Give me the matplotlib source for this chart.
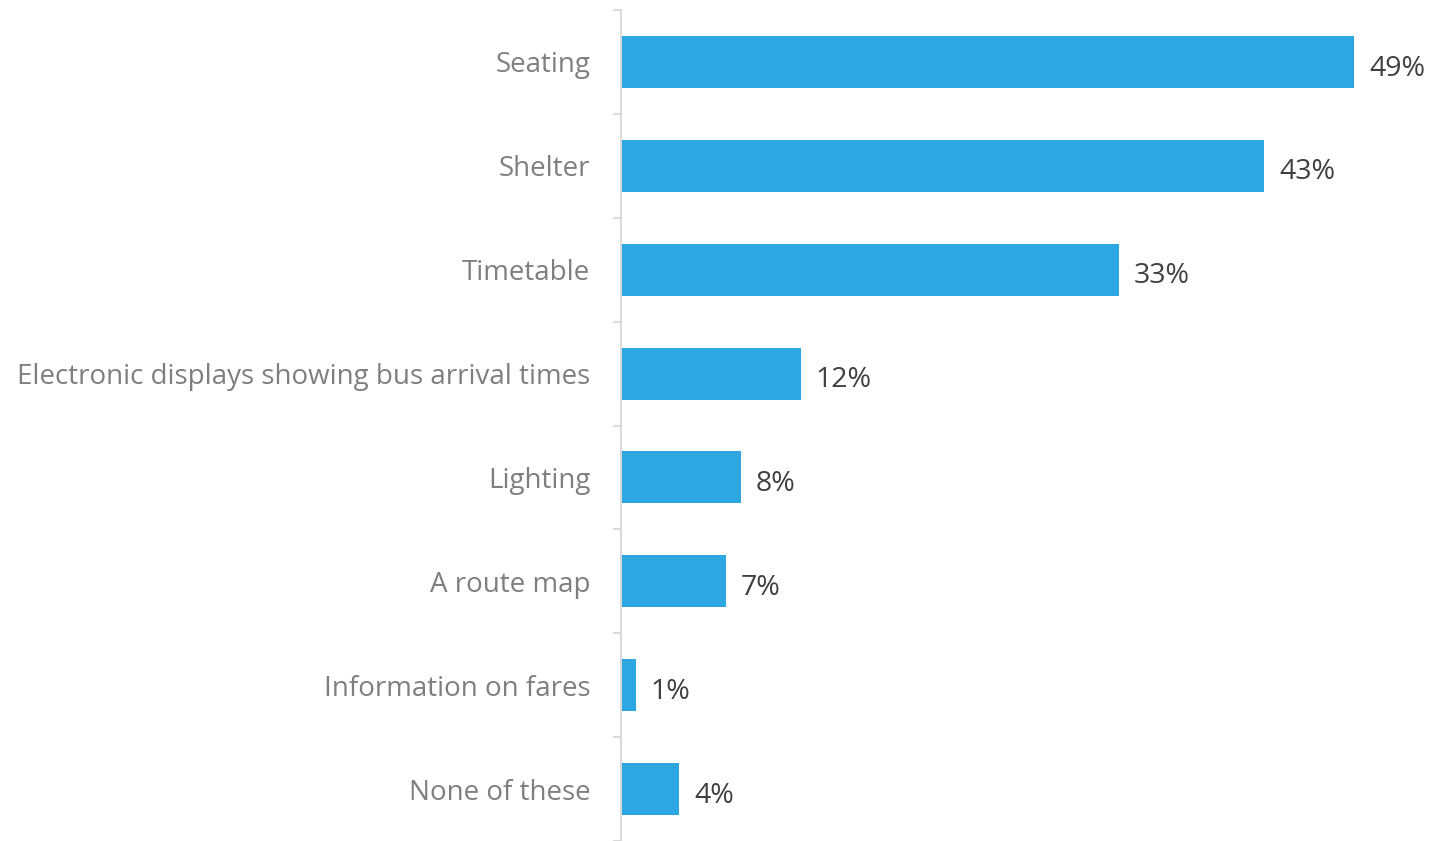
import matplotlib.pyplot as plt
import numpy as np

# Werte aus dem Diagramm
categories = ['Seating', 'Shelter', 'Timetable', 'Electronic displays showing bus arrival times',
              'Lighting', 'A route map', 'Information on fares', 'None of these']
values = [49, 43, 33.3, 12, 8, 7, 1, 3.9]
labels = ['49%', '43%', '33%', '12%', '8%', '7%', '1%', '4%']

plt.rcParams['font.family'] = ['Open Sans', 'DejaVu Sans']

fig = plt.figure(figsize=(14.29, 8.41), dpi=100)
ax = fig.add_axes([621 / 1429, 0.0, 808 / 1429, 1 - 10 / 841])

y = np.arange(len(categories))
ax.barh(y, values, height=0.5, color='#2ca7e1')
for yi, v, lab in zip(y, values, labels):
    ax.text(v + 1.0, yi + 0.03, lab, va='center_baseline', ha='left', fontsize=20.5, color='#404040')

ax.set_xlim(0, 808 / 14.96)
ax.set_ylim(len(categories) - 0.5, -0.5)
ax.set_yticks(y)
ax.set_yticklabels(categories, fontsize=20, color='#7f7f7f')
ax.set_yticks(np.arange(len(categories) + 1) - 0.5, minor=True)
ax.tick_params(axis='y', which='major', length=0, pad=22)
ax.tick_params(axis='y', which='minor', length=6, width=1.4, color='#d9d9d9')
ax.set_xticks([])
for s in ['top', 'right', 'bottom']:
    ax.spines[s].set_visible(False)
ax.spines['left'].set_color('#d9d9d9')
ax.spines['left'].set_linewidth(1.4)

fig.savefig('out.png', dpi=100)
